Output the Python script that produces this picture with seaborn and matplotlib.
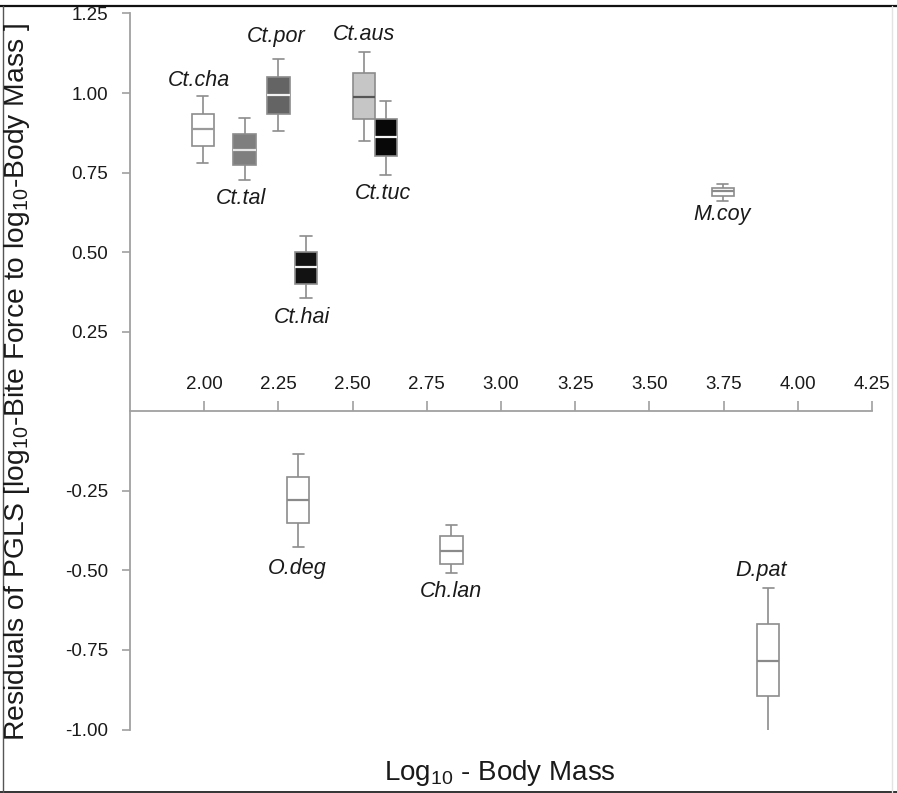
import numpy as np
import pandas as pd
import matplotlib
matplotlib.use("Agg")
import matplotlib.pyplot as plt
import seaborn as sns
from matplotlib.ticker import FixedLocator, FormatStrFormatter
from matplotlib.lines import Line2D

# ---------------- data ----------------
species = ["Ct.cha", "Ct.tal", "Ct.por", "Ct.hai", "Ct.aus", "Ct.tuc",
           "M.coy", "O.deg", "Ch.lan", "D.pat"]
log_mass = [1.995, 2.136, 2.250, 2.343, 2.539, 2.612, 3.747, 2.317, 2.833, 3.900]
whisker_low = [0.781, 0.728, 0.880, 0.355, 0.848, 0.744, 0.662, -0.427, -0.508, -1.008]
q1 = [0.834, 0.774, 0.935, 0.401, 0.917, 0.803, 0.677, -0.352, -0.480, -0.895]
median = [0.887, 0.822, 0.995, 0.454, 0.989, 0.861, 0.691, -0.280, -0.438, -0.784]
q3 = [0.935, 0.870, 1.049, 0.499, 1.062, 0.917, 0.702, -0.206, -0.393, -0.669]
whisker_high = [0.990, 0.922, 1.108, 0.552, 1.129, 0.974, 0.714, -0.135, -0.358, -0.555]

x_ticks = [2.00, 2.25, 2.50, 2.75, 3.00, 3.25, 3.50, 3.75, 4.00, 4.25]
y_ticks = [-1.00, -0.75, -0.50, -0.25, 0.25, 0.50, 0.75, 1.00, 1.25]

# ---------------- styles ----------------
fill_colors = {"Ct.cha": "#ffffff", "Ct.tal": "#7f7f7f", "Ct.por": "#646464",
               "Ct.hai": "#121212", "Ct.aus": "#c6c6c6", "Ct.tuc": "#080808",
               "M.coy": "#ffffff", "O.deg": "#ffffff", "Ch.lan": "#ffffff",
               "D.pat": "#ffffff"}
median_colors = {"Ct.cha": "#9a9a9a", "Ct.tal": "#e6e6e6", "Ct.por": "#f2f2f2",
                 "Ct.hai": "#f2f2f2", "Ct.aus": "#555555", "Ct.tuc": "#f5f5f5",
                 "M.coy": "#8a8a8a", "O.deg": "#8a8a8a", "Ch.lan": "#8a8a8a",
                 "D.pat": "#8a8a8a"}
# label anchor positions (data coordinates)
label_x = [1.983, 2.125, 2.241, 2.330, 2.539, 2.603, 3.745, 2.313, 2.830, 3.878]
label_y = [1.038, 0.668, 1.177, 0.294, 1.184, 0.684, 0.618, -0.494, -0.565, -0.499]

sns.set_style("white")
plt.rcParams["font.family"] = ["Liberation Sans", "DejaVu Sans"]
plt.rcParams["mathtext.fontset"] = "custom"
plt.rcParams["mathtext.rm"] = "Liberation Sans"
plt.rcParams["mathtext.it"] = "Liberation Sans:italic"
plt.rcParams["axes.unicode_minus"] = False

# long table: five summary values per species (quartiles recovered exactly)
rows = []
for i, s in enumerate(species):
    for v in (whisker_low[i], q1[i], median[i], q3[i], whisker_high[i]):
        rows.append({"species": s, "log_mass": log_mass[i], "residual": v})
df = pd.DataFrame(rows)

W, H = 897, 793
fig = plt.figure(figsize=(W / 100, H / 100), dpi=100)
ax_left, ax_right = 130 / W, 872 / W
ax_top, ax_bot = 1 - 13.5 / H, 1 - 729.5 / H
ax = fig.add_axes([ax_left, ax_bot, ax_right - ax_left, ax_top - ax_bot])

edge = "#8c8c8c"
for s in species:
    sub = df[df["species"] == s]
    sns.boxplot(data=sub, x="log_mass", y="residual", native_scale=True,
                orient="x", width=0.075, whis=(0, 100), saturation=1,
                color=fill_colors[s], linecolor=edge, linewidth=1.2,
                medianprops={"color": median_colors[s], "linewidth": 1.6},
                showfliers=False, ax=ax)

text_col = "#1a1a1a"
for i, s in enumerate(species):
    ax.text(label_x[i], label_y[i], s, style="italic", fontsize=15.5,
            ha="center", va="center", color=text_col)

ax.set_xlim(1.75, 4.25)
ax.set_ylim(-1.0, 1.25)
ax.set_xlabel("")
ax.set_ylabel("")

spine_col = "#a0a0a0"
ax.spines["bottom"].set_visible(False)
ax.spines["right"].set_visible(False)
ax.spines["top"].set_position(("data", 0))
ax.spines["top"].set_color(spine_col)
ax.spines["top"].set_linewidth(1.3)
ax.spines["left"].set_color(spine_col)
ax.spines["left"].set_linewidth(1.3)

ax.xaxis.set_ticks_position("top")
ax.xaxis.set_major_locator(FixedLocator(x_ticks))
ax.xaxis.set_major_formatter(FormatStrFormatter("%.2f"))
ax.yaxis.set_ticks_position("left")
ax.yaxis.set_major_locator(FixedLocator(y_ticks))
ax.yaxis.set_major_formatter(FormatStrFormatter("%.2f"))
ax.tick_params(axis="x", direction="out", length=7, width=1.2, color=spine_col,
               pad=6, labelsize=13.5, labelcolor=text_col)
ax.tick_params(axis="y", direction="out", length=6, width=1.2, color=spine_col,
               pad=10, labelsize=13.5, labelcolor=text_col)

fig.text(17 / W, 1 - 382 / H,
         "Residuals of PGLS [log$_{10}$-Bite Force to log$_{10}$-Body Mass ]",
         rotation=90, ha="center", va="center", fontsize=20.3, color=text_col)
fig.text(500 / W, 1 - 780 / H, "Log$_{10}$ - Body Mass",
         ha="center", va="baseline", fontsize=20, color=text_col)

# outer frame of the figure
fx0, fx1 = 3 / W, 892 / W
fy0, fy1 = 1 - 792 / H, 1 - 6 / H
fig.add_artist(Line2D([0, 1], [fy1, fy1], transform=fig.transFigure, color="#111111", lw=1.6))
fig.add_artist(Line2D([0, 1], [fy0, fy0], transform=fig.transFigure, color="#333333", lw=1.4))
fig.add_artist(Line2D([fx0, fx0], [fy0, fy1], transform=fig.transFigure, color="#555555", lw=1.0))
fig.add_artist(Line2D([fx1, fx1], [fy0, fy1], transform=fig.transFigure, color="#e3e3e3", lw=1.0))

fig.savefig("out.png", dpi=100)
